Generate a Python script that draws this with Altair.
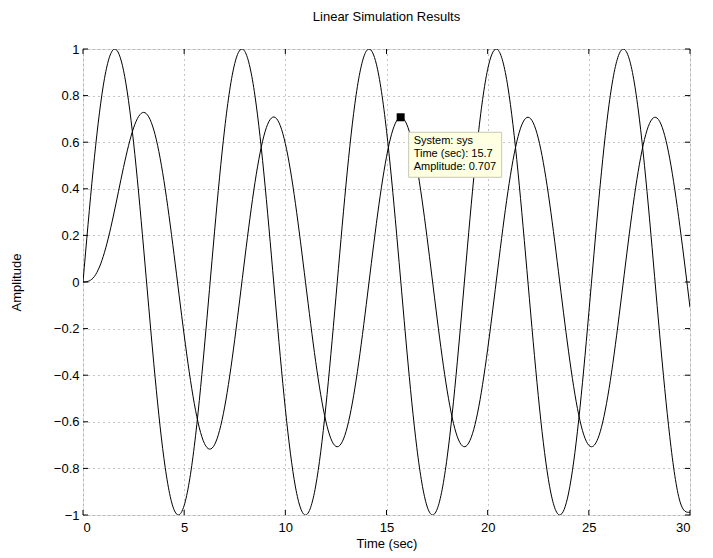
import altair as alt
import pandas as pd

# ---- data ----
time_sec = [0, 0.5, 1, 1.5, 2, 2.5, 3, 3.5, 4, 4.5,
            5, 5.5, 6, 6.5, 7, 7.5, 8, 8.5, 9, 9.5,
            10, 10.5, 11, 11.5, 12, 12.5, 13, 13.5, 14, 14.5,
            15, 15.5, 16, 16.5, 17, 17.5, 18, 18.5, 19, 19.5,
            20, 20.5, 21, 21.5, 22, 22.5, 23, 23.5, 24, 24.5,
            25, 25.5, 26, 26.5, 27, 27.5, 28, 28.5, 29, 29.5,
            30]

input_signal = [0, 0.4794, 0.8415, 0.9975, 0.9093, 0.5985, 0.1411, -0.3508, -0.7568, -0.9775,
                -0.9589, -0.7055, -0.2794, 0.2151, 0.6570, 0.9380, 0.9894, 0.7985, 0.4121, -0.0752,
                -0.5440, -0.8797, -1.0000, -0.8755, -0.5366, -0.0663, 0.4202, 0.8038, 0.9906, 0.9349,
                0.6503, 0.2065, -0.2879, -0.7118, -0.9614, -0.9756, -0.7510, -0.3425, 0.1499, 0.6055,
                0.9129, 0.9968, 0.8367, 0.4716, -0.0089, -0.4872, -0.8462, -0.9981, -0.9056, -0.5914,
                -0.1324, 0.3591, 0.7626, 0.9794, 0.9564, 0.6992, 0.2709, -0.2238, -0.6636, -0.9410,
                -0.9880]

output_signal = [0, 0.0171, 0.1095, 0.2832, 0.4909, 0.6612, 0.7279, 0.6522, 0.4353, 0.1179,
                 -0.2275, -0.5216, -0.6926, -0.6985, -0.5368, -0.2461, 0.1034, 0.4269, 0.6456, 0.7063,
                 0.5942, 0.3368, -0.0028, -0.3416, -0.5967, -0.7056, -0.6417, -0.4207, -0.0967, 0.2510,
                 0.5372, 0.6919, 0.6772, 0.4967, 0.1946, -0.1552, -0.4669, -0.6643, -0.6991, -0.5627,
                 -0.2886, 0.0563, 0.3873, 0.6235, 0.7071, 0.6175, 0.3768, 0.0438, -0.2999, -0.5702,
                 -0.7009, -0.6600, -0.4574, -0.1429, 0.2066, 0.5055, 0.6807, 0.6892, 0.5290, 0.2392,
                 -0.1091]

x_ticks = [0, 5, 10, 15, 20, 25, 30]
y_ticks = [-1, -0.8, -0.6, -0.4, -0.2, 0, 0.2, 0.4, 0.6, 0.8, 1]

tip_time = 15.7
tip_amp = 0.707
tip_lines = ["System: sys", "Time (sec): 15.7", "Amplitude: 0.707"]

chart_title = "Linear Simulation Results"
x_title = "Time (sec)"
y_title = "Amplitude"

# ---- layout / style ----
W, H = 607, 466
FONT = "Liberation Sans"
FS = 13

n = len(time_sec)
df = pd.DataFrame({
    "t": time_sec + time_sec,
    "v": input_signal + output_signal,
    "s": ["input"] * n + ["output"] * n,
})

xs = alt.Scale(domain=[0, 30], nice=False, zero=False)
ys = alt.Scale(domain=[-1, 1], nice=False, zero=False)

x_axis = alt.Axis(values=x_ticks, title=x_title, grid=True, gridDash=[1, 4],
                  gridColor="#8a8a8a", gridWidth=1, ticks=False, tickSize=0,
                  domain=False, labelPadding=6, titlePadding=3, format="~g",
                  labelFont=FONT, labelFontSize=FS, titleFont=FONT,
                  titleFontSize=FS, titleFontWeight="normal", labelColor="black",
                  titleColor="black")
y_axis = alt.Axis(values=y_ticks, title=y_title, grid=True, gridDash=[1, 4],
                  gridColor="#8a8a8a", gridWidth=1, ticks=False, tickSize=0,
                  domain=False, labelPadding=4, titlePadding=30, format="~g",
                  labelFont=FONT, labelFontSize=FS, titleFont=FONT,
                  titleFontSize=FS, titleFontWeight="normal", labelColor="black",
                  titleColor="black")

lines = alt.Chart(df).mark_line(color="black", strokeWidth=1,
                                interpolate="natural", clip=True).encode(
    x=alt.X("t:Q", scale=xs, axis=x_axis),
    y=alt.Y("v:Q", scale=ys, axis=y_axis),
    detail="s:N",
)

ytick_df = pd.DataFrame({"v": y_ticks})
xtick_df = pd.DataFrame({"t": x_ticks})

left_ticks = alt.Chart(ytick_df).mark_rule(color="black", strokeWidth=1).encode(
    y=alt.Y("v:Q", scale=ys), x=alt.value(0), x2=alt.value(5))
right_ticks = alt.Chart(ytick_df).mark_rule(color="black", strokeWidth=1).encode(
    y=alt.Y("v:Q", scale=ys), x=alt.value(W - 5), x2=alt.value(W))
bottom_ticks = alt.Chart(xtick_df).mark_rule(color="black", strokeWidth=1).encode(
    x=alt.X("t:Q", scale=xs), y=alt.value(H - 5), y2=alt.value(H))
top_ticks = alt.Chart(xtick_df).mark_rule(color="black", strokeWidth=1).encode(
    x=alt.X("t:Q", scale=xs), y=alt.value(0), y2=alt.value(5))

tip_df = pd.DataFrame({"t": [tip_time], "v": [tip_amp], "label": ["\n".join(tip_lines)]})

marker = alt.Chart(tip_df).mark_square(size=64, color="black", opacity=1,
                                       filled=True).encode(
    x=alt.X("t:Q", scale=xs), y=alt.Y("v:Q", scale=ys))

box = alt.Chart(tip_df).mark_rect(fill="#ffffe1", stroke="#c8c8b4", strokeWidth=1,
                                  xOffset=8, x2Offset=101, yOffset=15,
                                  y2Offset=60).encode(
    x=alt.X("t:Q", scale=xs), x2="t:Q",
    y=alt.Y("v:Q", scale=ys), y2="v:Q")

tip_text = alt.Chart(tip_df).mark_text(align="left", baseline="top", dx=13, dy=18,
                                       font=FONT, fontSize=11, lineHeight=13,
                                       lineBreak="\n", color="black").encode(
    x=alt.X("t:Q", scale=xs), y=alt.Y("v:Q", scale=ys), text="label:N")

chart = alt.layer(lines, left_ticks, right_ticks, bottom_ticks, top_ticks,
                  marker, box, tip_text).properties(
    width=W, height=H,
    title=alt.TitleParams(chart_title, font=FONT, fontSize=FS, fontWeight="normal",
                          anchor="middle", offset=19, color="black"),
    autosize=alt.AutoSizeParams(type="none"),
    padding={"left": 75, "top": 41, "right": 15, "bottom": 40},
).configure_view(stroke="black", strokeWidth=1).configure(background="white")

chart.save("out.html", embed_options={"renderer": "svg", "actions": False})
